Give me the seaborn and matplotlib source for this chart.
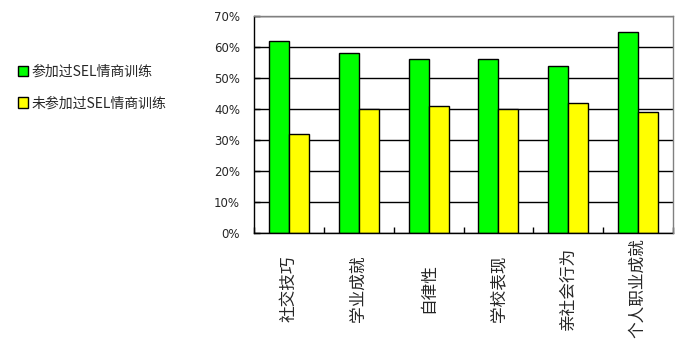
import matplotlib
matplotlib.use("Agg")
import matplotlib.pyplot as plt
import seaborn as sns
import pandas as pd
import numpy as np
from matplotlib.patches import Patch
from matplotlib.ticker import FixedLocator, FuncFormatter

categories = ["社交技巧", "学业成就", "自律性", "学校表现", "亲社会行为", "个人职业成就"]
series_names = ["参加过SEL情商训练", "未参加过SEL情商训练"]
trained = [62, 58, 56, 56, 54, 65]
untrained = [32, 40, 41, 40, 42, 39]
colors = ["#00FF00", "#FFFF00"]
yticks = [0, 10, 20, 30, 40, 50, 60, 70]

sns.set_style("white")
plt.rcParams['font.family'] = ['Noto Sans CJK SC', 'DejaVu Sans']

df = pd.DataFrame({
    "category": categories * 2,
    "series": [series_names[0]] * len(categories) + [series_names[1]] * len(categories),
    "value": trained + untrained,
})

fig = plt.figure(figsize=(6.8, 3.52), dpi=100)
ax = fig.add_axes([254/680, 1 - 233/352, (673 - 254)/680, (233 - 16)/352])

sns.barplot(data=df, x="category", y="value", hue="series", order=categories,
            hue_order=series_names, palette=colors, width=0.573, gap=0,
            edgecolor="black", linewidth=1, saturation=1, ax=ax, legend=False)

ax.set_xlim(-0.5, len(categories) - 0.5)
ax.set_ylim(0, 70)
ax.set_yticks(yticks)
ax.yaxis.set_major_formatter(FuncFormatter(lambda v, p: f"{int(v)}%"))
ax.grid(axis="y", color="black", linewidth=1)
ax.set_axisbelow(True)
ax.set_xlabel("")
ax.set_ylabel("")

for s in ["left", "bottom"]:
    ax.spines[s].set_color("black")
    ax.spines[s].set_linewidth(1)
for s in ["top", "right"]:
    ax.spines[s].set_color("#808080")
    ax.spines[s].set_linewidth(1)
    ax.spines[s].set_zorder(5)

ax.tick_params(axis="y", direction="in", length=4.5, width=1, color="black",
               pad=10, labelsize=8.5, left=True)
for lbl in ax.get_yticklabels():
    lbl.set_family("DejaVu Sans")

ax.xaxis.set_minor_locator(FixedLocator(np.arange(-0.5, len(categories), 1.0)))
ax.tick_params(axis="x", which="minor", direction="in", length=4.5, width=1,
               color="black", bottom=True)
ax.tick_params(axis="x", which="major", length=0, pad=40, labelsize=12)
ax.set_xticks(range(len(categories)))
ax.set_xticklabels(categories, rotation=90, va="center", ha="center")

handles = [Patch(facecolor=c, edgecolor="black", linewidth=1) for c in colors]
fig.legend(handles, series_names, loc="upper left", bbox_to_anchor=(18/680, 1 - 65/352),
           frameon=False, fontsize=10, handlelength=0.75, handleheight=0.75,
           handletextpad=0.25, labelspacing=1.25, borderpad=0, borderaxespad=0)

fig.savefig("out.png", dpi=100)
